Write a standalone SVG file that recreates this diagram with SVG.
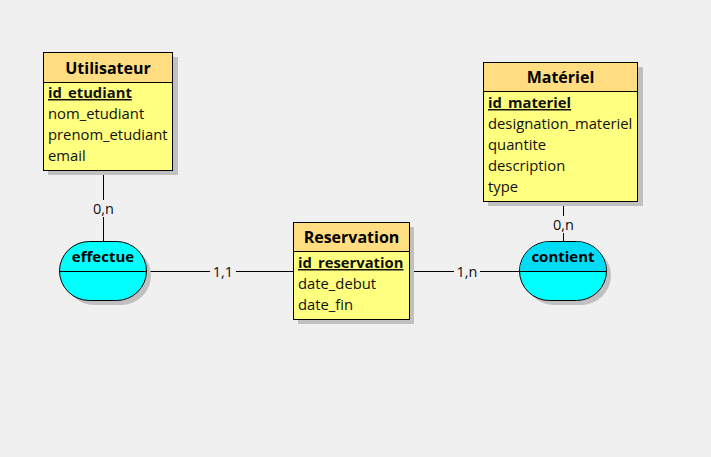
<svg xmlns="http://www.w3.org/2000/svg" width="711" height="457" viewBox="0 0 711 457">
<style>
.bg{fill:#f0f0f0}
.sh{fill:#c0c0c0}
.hd{fill:#ffdd80;stroke:#000;stroke-width:1}
.bd{fill:#ffff80;stroke:#000;stroke-width:1}
.t{font-family:"Open Sans","Liberation Sans",sans-serif;font-weight:bold;font-size:16px;fill:#000;text-anchor:middle}
.a{font-family:"Open Sans","Liberation Sans",sans-serif;font-size:14.8px;fill:#111}
.k{font-weight:bold;text-decoration:underline}
.rel{fill:#00ffff;stroke:#000;stroke-width:1}
.relh{fill:#00dcf5}
.rt{font-family:"Open Sans","Liberation Sans",sans-serif;font-weight:bold;font-size:15px;fill:#000;text-anchor:middle}
.ln{stroke:#000;stroke-width:1;fill:none}
.lb{font-family:"Open Sans","Liberation Sans",sans-serif;font-size:14.5px;fill:#111;text-anchor:middle}
.lbg{fill:#f0f0f0}
</style>
<rect class="bg" x="0" y="0" width="711" height="457"/>
<g id="connectors">
<line class="ln" x1="103.5" y1="170" x2="103.5" y2="241"/>
<rect class="lbg" x="91" y="200" width="26" height="17"/>
<text class="lb" x="103.5" y="214">0,n</text>
<line class="ln" x1="147" y1="271.5" x2="293" y2="271.5"/>
<rect class="lbg" x="210" y="262" width="26" height="18"/>
<text class="lb" x="223" y="277">1,1</text>
<line class="ln" x1="409" y1="271.5" x2="519" y2="271.5"/>
<rect class="lbg" x="454" y="262" width="26" height="18"/>
<text class="lb" x="467" y="277">1,n</text>
<line class="ln" x1="563.5" y1="201" x2="563.5" y2="241"/>
<rect class="lbg" x="550" y="216" width="27" height="17"/>
<text class="lb" x="563.5" y="230">0,n</text>
</g>
<g id="Utilisateur">
<rect class="sh" x="48" y="57" width="130" height="118"/>
<rect class="hd" x="43.5" y="52.5" width="129" height="30"/>
<rect class="bd" x="43.5" y="82.5" width="129" height="88"/>
<text class="t" x="108" y="74">Utilisateur</text>
<text class="a k" x="48" y="98">id_etudiant</text>
<text class="a" x="48" y="119">nom_etudiant</text>
<text class="a" x="48" y="140">prenom_etudiant</text>
<text class="a" x="48" y="161">email</text>
</g>
<g id="Materiel">
<rect class="sh" x="488" y="67" width="155" height="139"/>
<rect class="hd" x="483.5" y="62.5" width="154" height="29"/>
<rect class="bd" x="483.5" y="91.5" width="154" height="110"/>
<text class="t" x="560.5" y="83">Matériel</text>
<text class="a k" x="488" y="108">id_materiel</text>
<text class="a" x="488" y="129">designation_materiel</text>
<text class="a" x="488" y="150">quantite</text>
<text class="a" x="488" y="171">description</text>
<text class="a" x="488" y="192">type</text>
</g>
<g id="Reservation">
<rect class="sh" x="298" y="227" width="116" height="97"/>
<rect class="hd" x="293.5" y="222.5" width="116" height="29"/>
<rect class="bd" x="293.5" y="251.5" width="116" height="68"/>
<text class="t" x="351.5" y="243">Reservation</text>
<text class="a k" x="298" y="268">id_reservation</text>
<text class="a" x="298" y="289">date_debut</text>
<text class="a" x="298" y="310">date_fin</text>
</g>
<g id="effectue">
<rect class="sh" x="64" y="246" width="87" height="59" rx="30" ry="29.5"/>
<rect class="rel" x="59.5" y="241.5" width="87" height="59" rx="30" ry="29.5"/>
<line class="ln" x1="59.5" y1="271.5" x2="146.5" y2="271.5"/>
<text class="rt" x="103" y="262">effectue</text>
</g>
<g id="contient">
<rect class="sh" x="524" y="246" width="87" height="59" rx="30" ry="29.5"/>
<rect class="rel" x="519.5" y="241.5" width="87" height="59" rx="30" ry="29.5"/>
<path class="relh" d="M549.5,242 H576.5 A29.5,29 0 0 1 606,271 H520 A29.5,29 0 0 1 549.5,242 Z"/>
<line class="ln" x1="519.5" y1="271.5" x2="606.5" y2="271.5"/>
<text class="rt" x="563" y="262">contient</text>
</g>
</svg>
